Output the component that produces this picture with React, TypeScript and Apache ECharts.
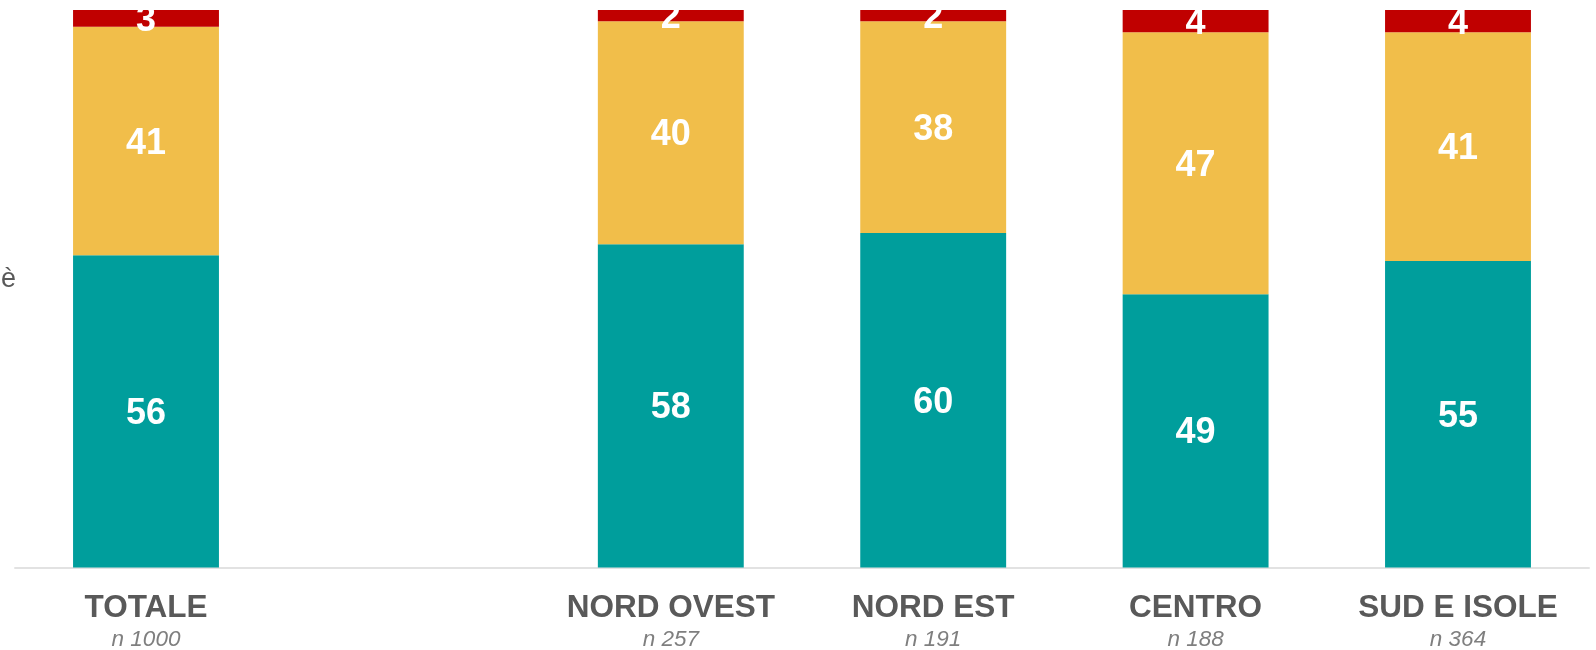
import React, { useEffect, useRef } from "react";
import * as echarts from "echarts";

const categories = ["TOTALE", "", "NORD OVEST", "NORD EST", "CENTRO", "SUD E ISOLE"];
const sampleSizes = ["n 1000", "", "n 257", "n 191", "n 188", "n 364"];
const tealValues = [56, null, 58, 60, 49, 55];
const yellowValues = [41, null, 40, 38, 47, 41];
const redValues = [3, null, 2, 2, 4, 4];
const seriesNames = ["Sì", "In parte", "No"];
const sideText = "è";

const FONT = '"Liberation Sans", Arial, sans-serif';

export default function App() {
  const ref = useRef<HTMLDivElement>(null);
  useEffect(() => {
    document.body.style.margin = "0";
    const chart = echarts.init(ref.current!, null, { renderer: "svg" });
    const label = {
      show: true,
      position: "inside",
      color: "#ffffff",
      fontFamily: FONT,
      fontWeight: "bold",
      fontSize: 36,
      formatter: (p: any) => (p.value == null ? "" : String(p.value)),
    };
    const mk = (name: string, data: any[], color: string) => ({
      name,
      type: "bar",
      stack: "tot",
      data,
      barWidth: "55.6%",
      itemStyle: { color },
      label,
      silent: true,
    });
    chart.setOption({
      animation: false,
      grid: { left: 14.8, right: 6.8, top: 10, bottom: 81, containLabel: false },
      xAxis: {
        type: "category",
        data: categories,
        axisLine: { show: true, lineStyle: { color: "#d9d9d9", width: 1.5 } },
        axisTick: { show: false },
        axisLabel: {
          interval: 0,
          margin: 20,
          formatter: (v: string, i: number) =>
            v ? `{a|${v}}\n{b|${sampleSizes[i]}}` : "",
          rich: {
            a: {
              fontFamily: FONT,
              fontWeight: "bold",
              fontSize: 31.5,
              color: "#595959",
              lineHeight: 36,
            },
            b: {
              fontFamily: FONT,
              fontStyle: "italic",
              fontSize: 22.5,
              color: "#7f7f7f",
              lineHeight: 30,
            },
          },
        },
      },
      yAxis: {
        type: "value",
        min: 0,
        max: 100,
        show: false,
        splitLine: { show: false },
      },
      graphic: [
        {
          type: "text",
          left: 1,
          top: 264,
          style: {
            text: sideText,
            fontFamily: FONT,
            fontSize: 27,
            fill: "#595959",
          },
        },
      ],
      series: [
        mk(seriesNames[0], tealValues, "#009E9C"),
        mk(seriesNames[1], yellowValues, "#F1BE4A"),
        mk(seriesNames[2], redValues, "#C00000"),
      ],
    });
    return () => chart.dispose();
  }, []);
  return (
    <div
      ref={ref}
      style={{ position: "fixed", left: 0, top: 0, width: 1596, height: 650 }}
    />
  );
}
